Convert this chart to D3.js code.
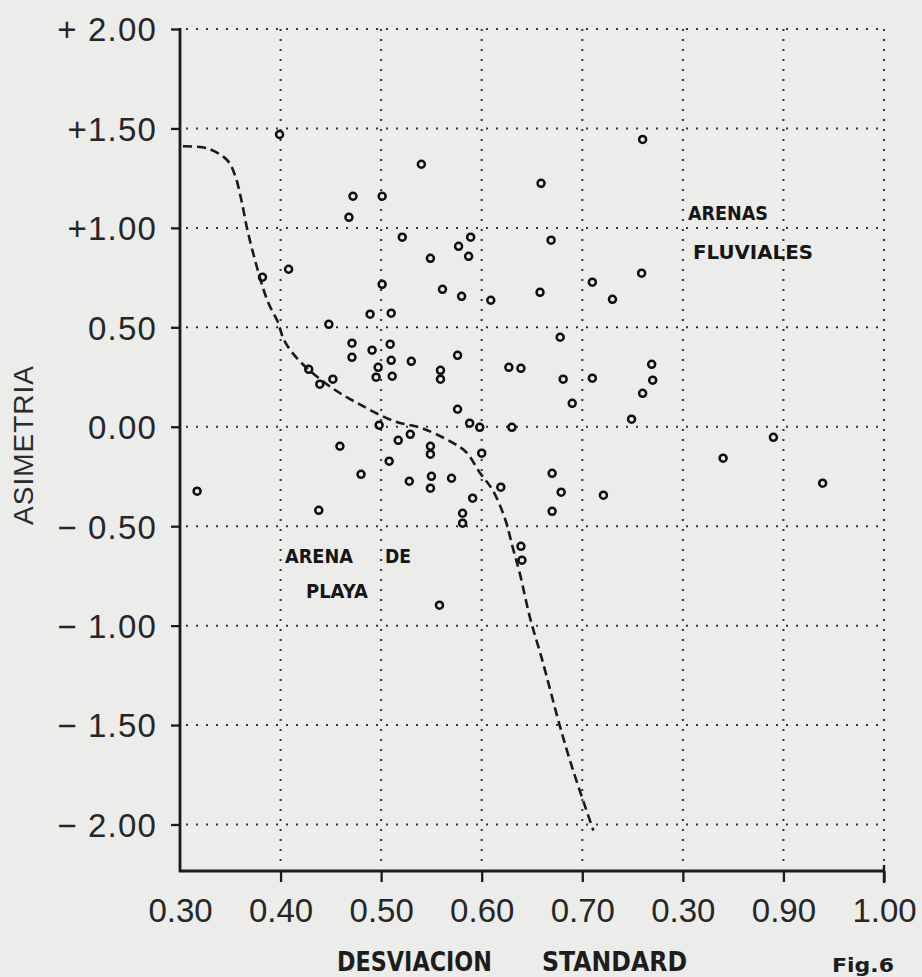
<!DOCTYPE html>
<html>
<head>
<meta charset="utf-8">
<script src="https://cdn.jsdelivr.net/npm/d3@7/dist/d3.min.js"></script>
<style>
  html, body { margin: 0; padding: 0; background: #ececea; }
  svg { display: block; }
</style>
</head>
<body>
<svg id="chart" width="922" height="977"></svg>
<script>
// ---- DATA ----
// Desviacion standard (x) and Asimetria (y) of each sample
const desviacion = [
  0.399, 0.540, 0.760, 0.659, 0.472, 0.501, 0.468, 0.521, 0.589, 0.577,
  0.587, 0.549, 0.669, 0.408, 0.382, 0.501, 0.561, 0.580, 0.759, 0.710,
  0.730, 0.658, 0.609, 0.489, 0.510, 0.448, 0.471, 0.471, 0.491, 0.509,
  0.510, 0.530, 0.497, 0.495, 0.511, 0.559, 0.559, 0.576, 0.428, 0.452,
  0.439, 0.678, 0.627, 0.639, 0.681, 0.710, 0.690, 0.769, 0.770, 0.760,
  0.749, 0.576, 0.588, 0.598, 0.630, 0.498, 0.529, 0.517, 0.549, 0.549,
  0.459, 0.600, 0.508, 0.480, 0.528, 0.550, 0.549, 0.570, 0.317, 0.438,
  0.591, 0.581, 0.581, 0.558, 0.670, 0.679, 0.670, 0.721, 0.619, 0.639,
  0.640, 0.840, 0.890, 0.939
];
const asimetria = [
  1.47, 1.32, 1.445, 1.224, 1.159, 1.159, 1.053, 0.953, 0.953, 0.907,
  0.857, 0.847, 0.938, 0.792, 0.752, 0.716, 0.691, 0.656, 0.772, 0.727,
  0.641, 0.676, 0.636, 0.566, 0.571, 0.515, 0.420, 0.349, 0.385, 0.415,
  0.334, 0.329, 0.299, 0.249, 0.254, 0.284, 0.239, 0.359, 0.289, 0.239,
  0.214, 0.450, 0.299, 0.294, 0.239, 0.244, 0.118, 0.314, 0.234, 0.168,
  0.038, 0.088, 0.018, -0.003, -0.003, 0.008, -0.038, -0.068, -0.098, -0.138,
  -0.098, -0.133, -0.173, -0.239, -0.274, -0.249, -0.309, -0.259, -0.324, -0.420,
  -0.359, -0.435, -0.485, -0.897, -0.234, -0.329, -0.425, -0.344, -0.304, -0.601,
  -0.671, -0.158, -0.053, -0.284
];
// Dashed boundary curve between beach and river sands
const curveX = [0.303, 0.327, 0.347, 0.355, 0.361, 0.367, 0.375, 0.383, 0.389, 0.397,
  0.404, 0.419, 0.447, 0.476, 0.512, 0.542, 0.571, 0.585, 0.598, 0.611,
  0.623, 0.631, 0.638, 0.648, 0.660, 0.678, 0.691, 0.711];
const curveY = [1.41, 1.40, 1.34, 1.26, 1.14, 0.99, 0.83, 0.69, 0.61, 0.53,
  0.43, 0.33, 0.21, 0.12, 0.03, -0.01, -0.08, -0.13, -0.23, -0.32,
  -0.46, -0.61, -0.74, -0.96, -1.17, -1.51, -1.73, -2.03];

const xTicks = [0.30, 0.40, 0.50, 0.60, 0.70, 0.80, 0.90, 1.00];
const xTickLabels = ["0.30", "0.40", "0.50", "0.60", "0.70", "0.30", "0.90", "1.00"];
const yTicks = [2.0, 1.5, 1.0, 0.5, 0.0, -0.5, -1.0, -1.5, -2.0];
const yTickLabels = ["+ 2.00", "+1.50", "+1.00", "0.50", "0.00", "\u2212 0.50", "\u2212 1.00", "\u2212 1.50", "\u2212 2.00"];

const xTitle = ["DESVIACION", "STANDARD"];
const yTitle = "ASIMETRIA";
const figLabel = "Fig.6";
const regionLabels = [["ARENAS", "FLUVIALES"], ["ARENA", "DE", "PLAYA"]];

// ---- DRAW ----
const svg = d3.select("#chart");
const x = d3.scaleLinear().domain([0.3, 1.0]).range([180, 884]);
const y = d3.scaleLinear().domain([-2, 2]).range([824.5, 29]);
const axisY = 871;
const ink = "#1a1a1a";
const textCol = "#262626";

// grid
const grid = svg.append("g").attr("stroke", "#333").attr("stroke-width", 2)
  .attr("stroke-dasharray", "2,8").attr("fill", "none");
grid.selectAll("line.h").data(yTicks).join("line")
  .attr("x1", x(0.3) + 6).attr("x2", x(1.0))
  .attr("y1", d => y(d)).attr("y2", d => y(d));
grid.selectAll("line.v").data(xTicks.slice(1)).join("line")
  .attr("x1", d => x(d)).attr("x2", d => x(d))
  .attr("y1", y(2)).attr("y2", axisY - 6);

// axes lines
svg.append("line").attr("x1", x(0.3)).attr("x2", x(0.3)).attr("y1", y(2) - 1).attr("y2", axisY + 1)
  .attr("stroke", ink).attr("stroke-width", 2.8);
svg.append("line").attr("x1", x(0.3) - 1).attr("x2", x(1.0)).attr("y1", axisY).attr("y2", axisY)
  .attr("stroke", ink).attr("stroke-width", 2.8);
svg.append("line").attr("x1", x(1.0)).attr("x2", x(1.0)).attr("y1", axisY - 6).attr("y2", axisY + 12)
  .attr("stroke", ink).attr("stroke-width", 2.4);

// x axis
const xAxis = d3.axisBottom(x).tickValues(xTicks).tickSize(11).tickPadding(17)
  .tickFormat((d, i) => xTickLabels[i]);
const gx = svg.append("g").attr("transform", `translate(0,${axisY})`).call(xAxis);
gx.select(".domain").remove();
gx.selectAll(".tick line").attr("stroke", ink).attr("stroke-width", 2.3)
  .attr("opacity", (d, i) => i === 0 ? 0 : 1);
gx.selectAll(".tick text").attr("fill", textCol)
  .attr("font-family", "'Liberation Sans', Arial, sans-serif").attr("font-size", 33);

// y axis
const yAxis = d3.axisLeft(y).tickValues(yTicks).tickSize(9).tickPadding(14)
  .tickFormat((d, i) => yTickLabels[i]);
const gy = svg.append("g").attr("transform", `translate(${x(0.3)},0)`).call(yAxis);
gy.select(".domain").remove();
gy.selectAll(".tick line").attr("stroke", ink).attr("stroke-width", 2.3);
gy.selectAll(".tick text").attr("fill", textCol)
  .attr("font-family", "'Liberation Sans', Arial, sans-serif").attr("font-size", 33)
  .attr("letter-spacing", 1.2).attr("dy", "0.36em");

// dashed curve
const pts = curveX.map((v, i) => [v, curveY[i]]);
svg.append("path").datum(pts)
  .attr("d", d3.line().x(d => x(d[0])).y(d => y(d[1])).curve(d3.curveCatmullRom.alpha(0.5)))
  .attr("fill", "none").attr("stroke", ink).attr("stroke-width", 2.6)
  .attr("stroke-dasharray", "9,5");

// points
svg.append("g").selectAll("circle").data(desviacion.map((v, i) => [v, asimetria[i]])).join("circle")
  .attr("cx", d => x(d[0])).attr("cy", d => y(d[1])).attr("r", 3.5)
  .attr("fill", "none").attr("stroke", "#0d0d0d").attr("stroke-width", 2.5);

// region labels
const lab = (t, px, py, len, size) => svg.append("text").text(t)
  .attr("x", px).attr("y", py).attr("fill", "#151515")
  .attr("font-family", "'DejaVu Sans', 'Liberation Sans', sans-serif").attr("font-weight", "bold")
  .attr("font-size", size).attr("textLength", len).attr("lengthAdjust", "spacingAndGlyphs");
lab(regionLabels[0][0], 688, 220, 80, 20);
lab(regionLabels[0][1], 693, 259, 120, 20);
lab(regionLabels[1][0], 285, 563, 68, 19);
lab(regionLabels[1][1], 385, 563, 26, 19);
lab(regionLabels[1][2], 306, 598, 62, 19);

// axis titles
const tt = (t, px, py, len, size) => svg.append("text").text(t)
  .attr("x", px).attr("y", py).attr("fill", "#1d1d1d")
  .attr("font-family", "'DejaVu Sans', 'Liberation Sans', sans-serif").attr("font-weight", "bold")
  .attr("font-size", size).attr("textLength", len).attr("lengthAdjust", "spacingAndGlyphs");
tt(xTitle[0], 337, 971, 155, 27);
tt(xTitle[1], 542, 971, 145, 27);
tt(figLabel, 832, 972, 62, 20);

svg.append("text").text(yTitle)
  .attr("transform", "translate(33,445) rotate(-90)")
  .attr("text-anchor", "middle").attr("fill", "#2b2b2b")
  .attr("font-family", "'Liberation Sans', Arial, sans-serif").attr("font-size", 28)
  .attr("letter-spacing", 1);
</script>
</body>
</html>
